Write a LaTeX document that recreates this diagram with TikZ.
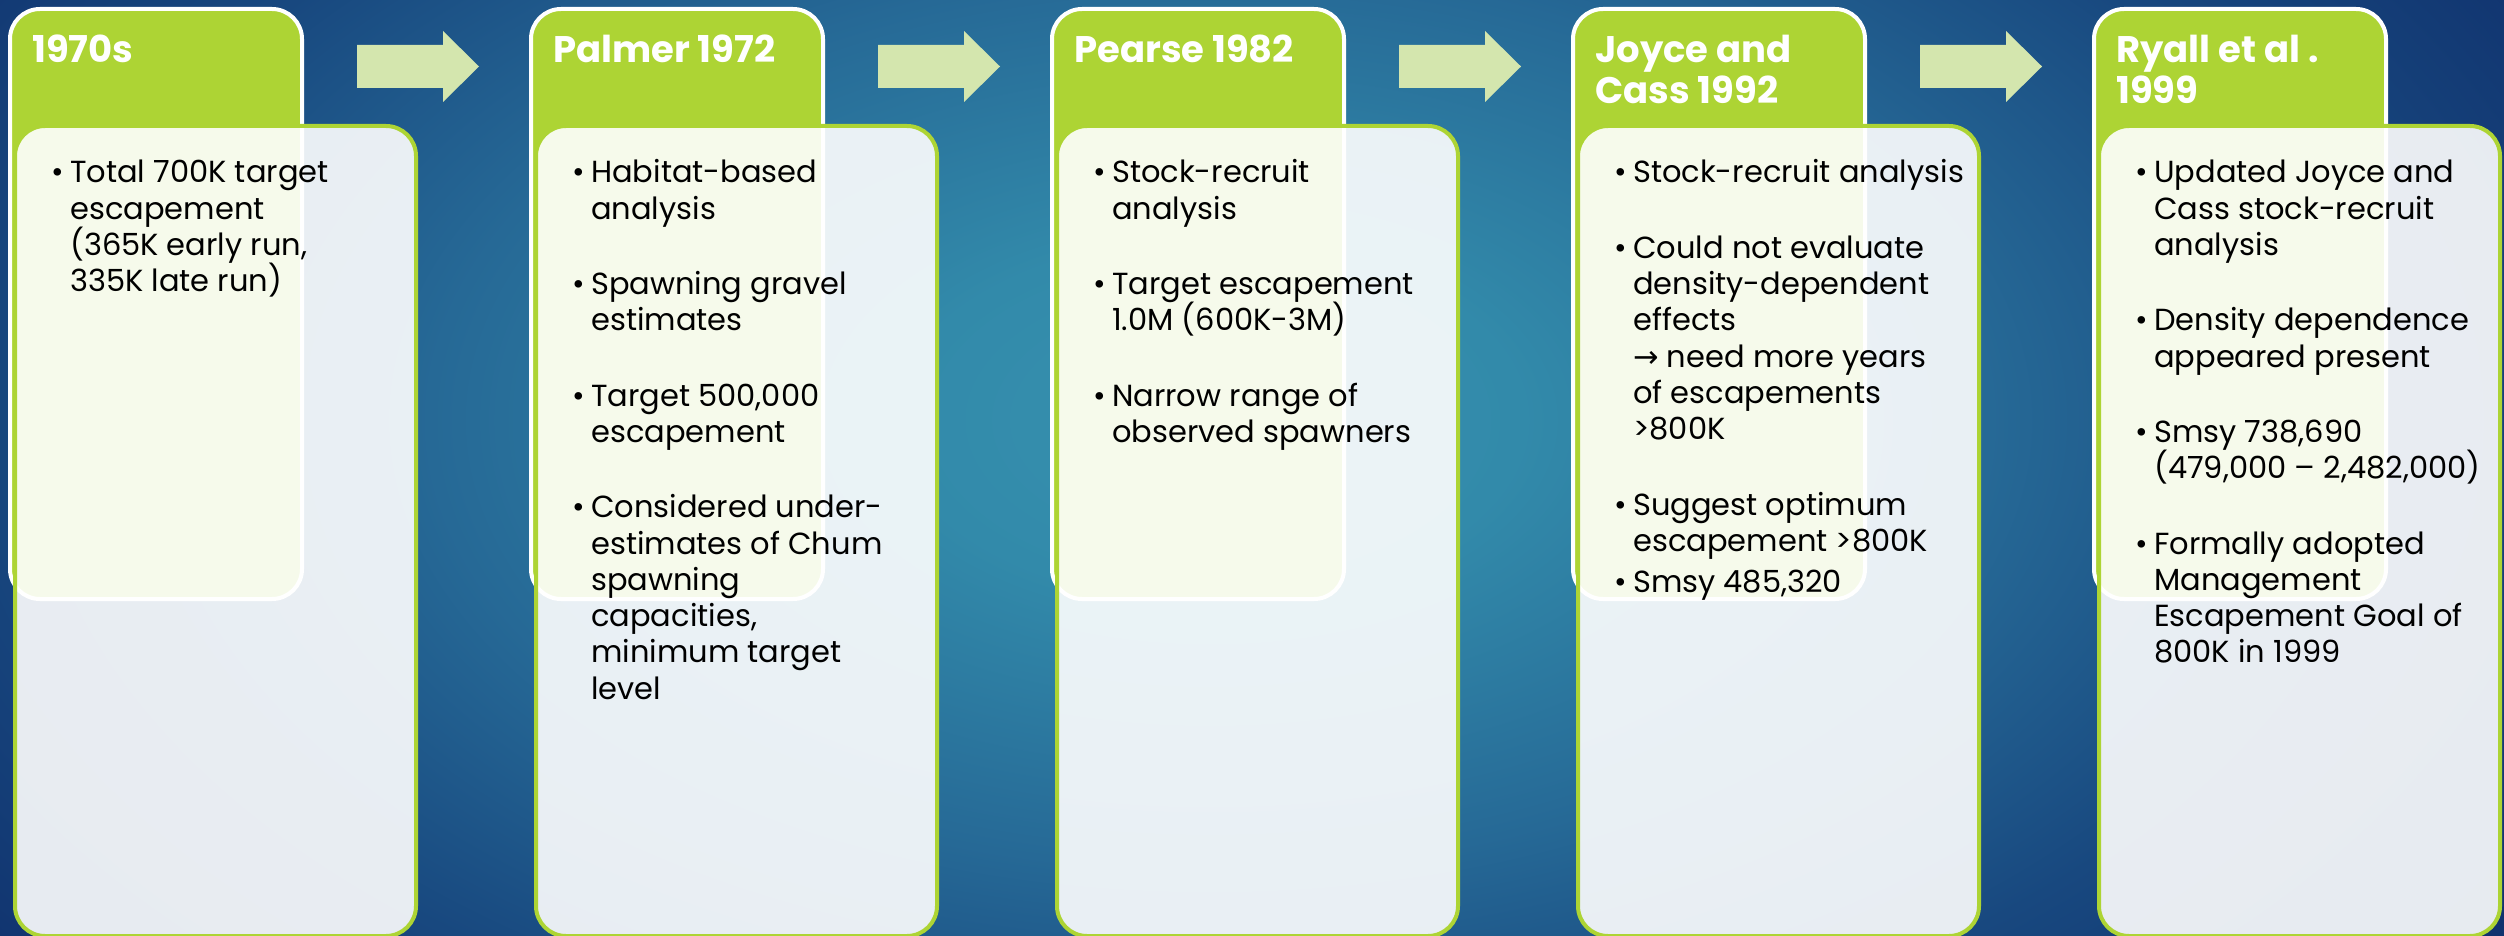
\documentclass[tikz,border=0pt]{standalone}
\usepackage{fontspec}
\setmainfont{Poppins}
\newfontfamily\symfont{DejaVu Sans}
\definecolor{hgreen}{RGB}{173,212,52}
\definecolor{arrowc}{RGB}{212,230,174}
\definecolor{bga}{RGB}{55,145,175}
\definecolor{bgb}{RGB}{50,138,170}
\definecolor{bgc}{RGB}{38,105,150}
\definecolor{bgd}{RGB}{24,72,127}
\definecolor{bge}{RGB}{16,50,110}
\definecolor{bgf}{RGB}{12,40,100}
\pgfdeclareradialshading{bgshade}{\pgfpoint{0bp}{0bp}}{color(0bp)=(bga); color(8bp)=(bgb); color(20bp)=(bgc); color(30bp)=(bgd); color(40bp)=(bge); color(50bp)=(bgf)}
\newlength\bulw \setlength\bulw{19pt}
\newcommand\lines[1]{\vtop{\lineskiplimit=-100pt\relax #1}}
\newcommand\bl[1]{\hbox{\makebox[\bulw][l]{\textbullet}#1}}
\newcommand\cl[1]{\hbox{\hspace*{\bulw}#1}}
\newcommand\gap[1][39pt]{\vskip#1\relax}
\tikzset{
  hdr/.style={draw=white, line width=4pt, fill=hgreen, rounded corners=30pt,
    anchor=north west, minimum width=292pt, minimum height=590pt, inner sep=0pt},
  cbox/.style={draw=hgreen, line width=4pt, fill=white, fill opacity=0.9, draw opacity=1,
    rounded corners=30pt, anchor=north west, minimum width=401pt, minimum height=810pt, inner sep=0pt},
  ttl/.style={anchor=base west, inner sep=0pt, text=white, font=\fontsize{37}{41}\selectfont\bfseries},
  body/.style={anchor=base west, inner sep=0pt, text=black, font=\fontsize{30.5}{36.3}\selectfont},
  barrow/.pic={\fill[arrowc] (0,45) -- (86,45) -- (86,31) -- (122,66.5) -- (86,102) -- (86,88) -- (0,88) -- cycle;}
}
\begin{document}
\begin{tikzpicture}[x=1pt,y=-1pt]
\useasboundingbox (0,0) rectangle (2504,936);
\fill[bgf] (0,0) rectangle (2504,936);
\begin{scope}
\clip (0,0) rectangle (2504,936);
\pgftransformshift{\pgfpoint{1210pt}{-420pt}}
\pgftransformxscale{38.85}
\pgftransformyscale{22.31}
\pgflowlevelsynccm
\pgfuseshading{bgshade}
\end{scope}
% column boxes
\foreach \i/\x in {1/8,2/529,3/1050,4/1571,5/2092}{
  \node[hdr] (h\i) at (\x,7) {};
  \node[cbox] (c\i) at (\x+5,124) {};
}
% block arrows
\foreach \x in {357,878,1399,1920}{
  \pic at (\x,0) {barrow};
}
% titles
\node[ttl] (t1) at (32,63) {1970s};
\node[ttl] (t2) at (553,63) {Palmer 1972};
\node[ttl] (t3) at (1074,63) {Pearse 1982};
\node[ttl] (t4) at (1595,63) {\lines{\hbox{Joyce and}\hbox{Cass 1992}}};
\node[ttl] (t5) at (2116,63) {\lines{\hbox{Ryall et al .}\hbox{1999}}};
% bodies
\node[body] (b1) at (51,183) {\lines{\bl{Total 700K target}\cl{escapement}\cl{(365K early run,}\cl{335K late run)}}};
\node[body] (b2) at (572,183) {\lines{\bl{Habitat-based}\cl{analysis}\gap
  \bl{Spawning gravel}\cl{estimates}\gap
  \bl{Target 500,000}\cl{escapement}\gap
  \bl{Considered under-}\cl{estimates of Chum}\cl{spawning}\cl{capacities,}\cl{minimum target}\cl{level}}};
\node[body] (b3) at (1093,183) {\lines{\bl{Stock-recruit}\cl{analysis}\gap
  \bl{Target escapement}\cl{1.0M (600K-3M)}\gap
  \bl{Narrow range of}\cl{observed spawners}}};
\node[body] (b4) at (1614,183) {\lines{\bl{Stock-recruit analysis}\gap
  \bl{Could not evaluate}\cl{density-dependent}\cl{effects}\cl{{\symfont →} need more years}\cl{of escapements}\cl{>800K}\gap
  \bl{Suggest optimum}\cl{escapement >800K}\gap[5pt]
  \bl{Smsy 485,320}}};
\node[body] (b5) at (2135,183) {\lines{\bl{Updated Joyce and}\cl{Cass stock-recruit}\cl{analysis}\gap
  \bl{Density dependence}\cl{appeared present}\gap
  \bl{Smsy 738,690}\cl{(479,000 – 2,482,000)}\gap
  \bl{Formally adopted}\cl{Management}\cl{Escapement Goal of}\cl{800K in 1999}}};
\end{tikzpicture}
\end{document}
